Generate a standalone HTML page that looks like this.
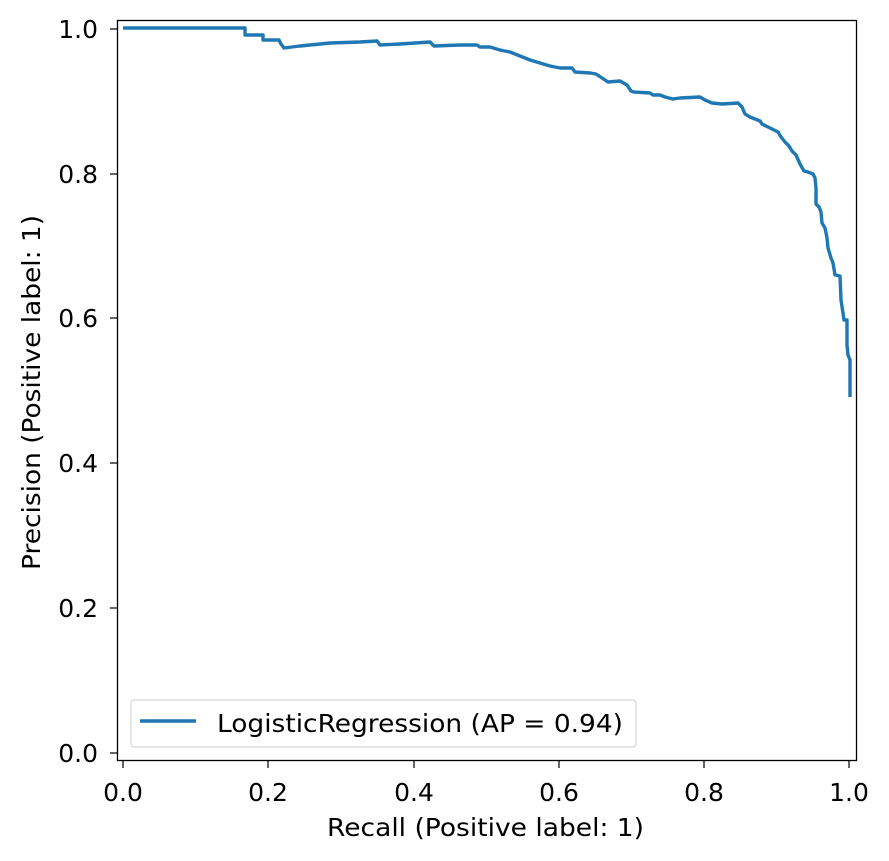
<!DOCTYPE html>
<html><head><meta charset="utf-8"><style>
body{margin:0;background:#fff}
svg{display:block}
text{font-family:"DejaVu Sans","Liberation Sans",sans-serif;font-size:25px;fill:#000}
</style></head><body>
<svg width="889" height="861" viewBox="0 0 889 861" xmlns="http://www.w3.org/2000/svg">
<rect width="889" height="861" fill="#fff"/>
<polyline fill="none" stroke="#1f77b4" stroke-width="3.4" stroke-linejoin="round" points="123,28 245,28 245,35 263,35 263,40 279,40 281,44 284,48 300,46 330,43 360,42 377,41 380,45 400,44 430,42 434,46 460,45 477,45 480,47 490,47 500,50 510,52 520,56 530,60 540,63 550,66 560,68 572,68 575,72 590,73 596,74 605,80 608,82 620,81 627,85 631,91 634,92 650,93 653,95 660,95 665,97 673,99 680,98 700,97 705,100 712,103 722,104 738,103 742,107 745,114 750,117 760,121 762,124 768,127 772,129 778,132 781,137 785,142 789,146 792,151 796,155 800,164 804,171 808,172 813,174 815,178 816,188 816,204 819,207 821,212 822,223 825,228 827,238 828,248 831,258 833,263 835,275 840,276 841,300 843,313 844,320 847,320 847,345 848,355 850,360 850,397"/>
<rect x="117.5" y="20.5" width="739" height="740" fill="none" stroke="#000" stroke-width="1.3"/>
<g stroke="#000" stroke-width="1.2">
<line x1="123" y1="761" x2="123" y2="768"/><line x1="268" y1="761" x2="268" y2="768"/><line x1="414" y1="761" x2="414" y2="768"/><line x1="559" y1="761" x2="559" y2="768"/><line x1="704" y1="761" x2="704" y2="768"/><line x1="849" y1="761" x2="849" y2="768"/>
<line x1="110" y1="753" x2="117" y2="753"/><line x1="110" y1="608" x2="117" y2="608"/><line x1="110" y1="463" x2="117" y2="463"/><line x1="110" y1="318" x2="117" y2="318"/><line x1="110" y1="174" x2="117" y2="174"/><line x1="110" y1="29" x2="117" y2="29"/>
</g>
<g text-anchor="middle">
<text x="123" y="801">0.0</text><text x="268" y="801">0.2</text><text x="414" y="801">0.4</text><text x="559" y="801">0.6</text><text x="704" y="801">0.8</text><text x="849" y="801">1.0</text>
</g>
<g text-anchor="end">
<text x="98" y="762">0.0</text><text x="98" y="617">0.2</text><text x="98" y="472">0.4</text><text x="98" y="327">0.6</text><text x="98" y="183">0.8</text><text x="98" y="38">1.0</text>
</g>
<text x="327" y="836" textLength="317" lengthAdjust="spacingAndGlyphs">Recall (Positive label: 1)</text>
<text transform="translate(40,570) rotate(-90)" textLength="355" lengthAdjust="spacingAndGlyphs">Precision (Positive label: 1)</text>
<rect x="131" y="700" width="505" height="47" rx="3" fill="#fff" fill-opacity="0.8" stroke="#ccc" stroke-width="1"/>
<line x1="140" y1="721" x2="196" y2="721" stroke="#1f77b4" stroke-width="3.4"/>
<text x="217" y="732" textLength="406" lengthAdjust="spacingAndGlyphs">LogisticRegression (AP = 0.94)</text>
</svg>
</body></html>
